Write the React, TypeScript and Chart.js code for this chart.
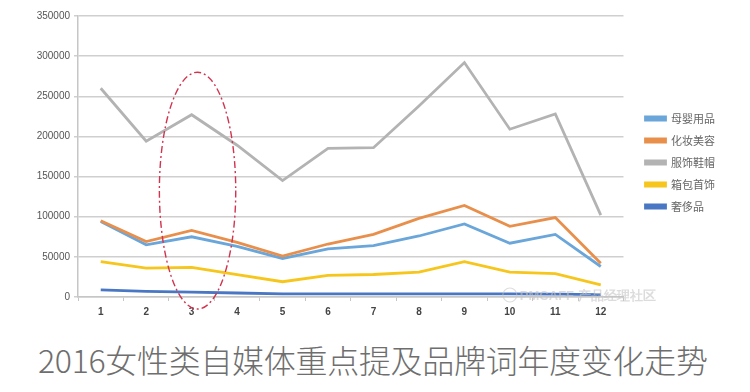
import React, { useEffect, useRef } from "react";
import { Chart, registerables } from "chart.js";

Chart.register(...registerables);

const months = ["1", "2", "3", "4", "5", "6", "7", "8", "9", "10", "11", "12"];
const seriesNames = ["母婴用品", "化妆美容", "服饰鞋帽", "箱包首饰", "奢侈品"];
const maternal = [94000, 65000, 75000, 63000, 48000, 60000, 64000, 76000, 91000, 67000, 78000, 38000];
const beauty = [95000, 69000, 83000, 68000, 51000, 66000, 78000, 98000, 114000, 88000, 99000, 42000];
const apparel = [260000, 194000, 227000, 189000, 145000, 185000, 186000, 238000, 292000, 209000, 228000, 102000];
const bags = [44000, 36000, 37000, 28000, 19000, 27000, 28000, 31000, 44000, 31000, 29000, 15000];
const luxury = [9000, 7000, 6000, 5000, 4000, 4000, 4000, 4000, 4000, 4000, 3500, 3000];
const yTicks = [0, 50000, 100000, 150000, 200000, 250000, 300000, 350000];
const titleText = "2016女性类自媒体重点提及品牌词年度变化走势";
const watermarkText = "PMCAFF 产品经理社区";

const colors = ["#6aa6d9", "#e98f4c", "#b3b3b3", "#f6c61c", "#4a77c4"];

const ellipsePlugin = {
  id: "ellipseMark",
  afterDatasetsDraw(chart: any) {
    const xs = chart.scales.x;
    const ys = chart.scales.y;
    const cx = xs.getPixelForValue(2.13);
    const rx = Math.abs(xs.getPixelForValue(2.97) - cx);
    const cy = ys.getPixelForValue(132500);
    const ry = Math.abs(ys.getPixelForValue(280000) - cy);
    const ctx = chart.ctx;
    ctx.save();
    ctx.strokeStyle = "#d2334f";
    ctx.lineWidth = 1.4;
    ctx.setLineDash([7, 3, 2, 3]);
    ctx.beginPath();
    ctx.ellipse(cx, cy, rx, ry, 0, 0, Math.PI * 2);
    ctx.stroke();
    ctx.restore();
  },
};

const watermarkPlugin = {
  id: "watermark",
  afterDraw(chart: any) {
    const ctx = chart.ctx;
    const xs = chart.scales.x;
    const ys = chart.scales.y;
    const x0 = xs.getPixelForValue(9.0);
    const y0 = ys.getPixelForValue(0);
    ctx.save();
    ctx.globalAlpha = 0.6;
    ctx.strokeStyle = "#c8c8c8";
    ctx.lineWidth = 1.2;
    ctx.beginPath();
    ctx.arc(x0, y0 - 2, 7, 0, Math.PI * 2);
    ctx.stroke();
    ctx.fillStyle = "#c4c4c4";
    ctx.font = "bold 13px 'Liberation Sans', sans-serif";
    ctx.textBaseline = "middle";
    ctx.fillText(watermarkText, x0 + 10, y0 - 1);
    ctx.restore();
  },
};

const legendShift = {
  id: "legendShift",
  afterLayout(chart: any) {
    const lg = chart.legend;
    if (lg) {
      lg.left += 11;
      lg.right += 11;
      lg.top -= 7;
      lg.bottom -= 7;
    }
  },
};

export default function App() {
  const ref = useRef<HTMLCanvasElement>(null);

  useEffect(() => {
    if (!ref.current) return;
    const data = [maternal, beauty, apparel, bags, luxury];
    const chart = new Chart(ref.current, {
      type: "line",
      data: {
        labels: months,
        datasets: seriesNames.map((name, i) => ({
          label: name,
          data: data[i],
          borderColor: colors[i],
          backgroundColor: colors[i],
          borderWidth: 2.8,
          pointRadius: 0,
          tension: 0,
          order: 5 - i,
        })),
      },
      options: {
        responsive: false,
        animation: false,
        devicePixelRatio: 1,
        layout: { padding: { top: 16, right: 36, bottom: 7, left: 0 } },
        plugins: {
          tooltip: { enabled: false },
          legend: {
            position: "right",
            align: "center",
            labels: {
              boxWidth: 20,
              boxHeight: 3,
              padding: 11,
              color: "#666",
              font: { size: 11, family: "'Noto Sans CJK SC', sans-serif" },
              sort: (a: any, b: any) => a.datasetIndex - b.datasetIndex,
            },
          },
        },
        scales: {
          x: {
            type: "category",
            offset: true,
            grid: {
              display: true,
              drawOnChartArea: false,
              drawTicks: true,
              tickLength: 4,
              offset: true,
              color: "#c6c6c6",
            },
            border: { display: true, color: "#c6c6c6", width: 1.5 },
            ticks: {
              color: "#444",
              padding: 5,
              font: { size: 10, weight: "bold", family: "'Liberation Sans', sans-serif" },
            },
          },
          y: {
            min: 0,
            max: 350000,
            afterFit: (s: any) => {
              s.width = 78;
            },
            afterBuildTicks: (s: any) => {
              s.ticks = yTicks.map((v) => ({ value: v }));
            },
            grid: { color: "#cfcfcf", lineWidth: 1.5, tickLength: 4 },
            border: { display: true, color: "#c6c6c6", width: 1.5 },
            ticks: {
              color: "#555",
              padding: 4,
              font: { size: 10, family: "'Liberation Sans', sans-serif" },
              callback: (v: any) => String(v),
            },
          },
        },
      },
      plugins: [ellipsePlugin, watermarkPlugin, legendShift],
    });
    return () => chart.destroy();
  }, []);

  return (
    <div style={{ position: "absolute", left: 0, top: 0, width: 750, height: 392, background: "#fff" }}>
      <canvas ref={ref} width={750} height={330} style={{ display: "block" }} />
      <div
        style={{
          position: "absolute",
          left: 38,
          top: 343,
          fontFamily: "'Noto Sans CJK SC', sans-serif",
          fontWeight: 300,
          fontSize: 32,
          lineHeight: "32px",
          letterSpacing: "-0.3px",
          color: "#6e6e6e",
          whiteSpace: "nowrap",
        }}
      >
        {titleText}
      </div>
    </div>
  );
}
